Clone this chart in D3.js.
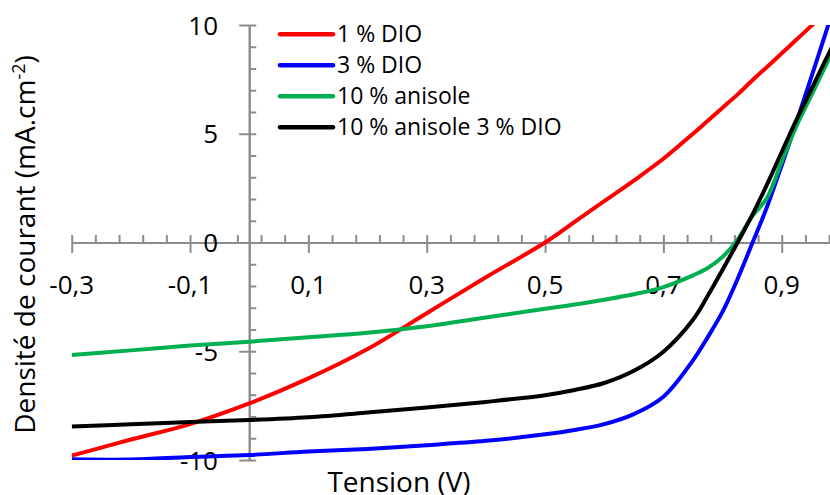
<!DOCTYPE html>
<html>
<head>
<meta charset="utf-8">
<script src="https://cdn.jsdelivr.net/npm/d3@7"></script>
<style>
  html, body { margin: 0; padding: 0; background: #fff; }
  svg { display: block; font-family: "Open Sans", sans-serif; }
</style>
</head>
<body>
<svg id="chart" width="830" height="495"></svg>
<script>
// ---- data ----
const voltage = [-0.3, -0.2, -0.1, 0, 0.1, 0.2, 0.3, 0.4, 0.5, 0.55, 0.6, 0.65, 0.7, 0.75, 0.775, 0.8, 0.825, 0.85, 0.875, 0.9, 0.925, 0.95, 0.975, 1.0];
const dio1     = [-9.8, -9.06, -8.35, -7.4, -6.25, -4.9, -3.25, -1.6, 0.0, 0.95, 1.9, 2.85, 3.85, 5.0, 5.6, 6.2, 6.8, 7.45, 8.07, 8.7, 9.33, 9.96, 10.6, 11.2];
const dio3     = [-9.97, -9.98, -9.86, -9.77, -9.61, -9.49, -9.32, -9.12, -8.82, -8.62, -8.35, -7.89, -7.09, -5.42, -4.35, -3.18, -1.7, -0.05, 1.63, 3.55, 5.55, 7.6, 9.7, 11.8];
const anisole  = [-5.17, -4.96, -4.74, -4.56, -4.36, -4.15, -3.85, -3.45, -3.05, -2.85, -2.63, -2.38, -2.05, -1.51, -1.17, -0.66, 0.12, 1.2, 2.05, 3.73, 5.36, 6.76, 8.17, 9.5];
const anisoleDio = [-8.46, -8.36, -8.25, -8.16, -8.03, -7.82, -7.59, -7.33, -7.02, -6.78, -6.46, -5.9, -5.02, -3.55, -2.45, -1.25, -0.02, 1.26, 2.66, 4.16, 5.65, 7.04, 8.44, 9.8];

const seriesNames  = ["1 % DIO", "3 % DIO", "10 % anisole", "10 % anisole 3 % DIO"];
const seriesColors = ["#ff0000", "#0000ff", "#00b050", "#000000"];
const seriesValues = [dio1, dio3, anisole, anisoleDio];

const xTickValues = [-0.3, -0.1, 0.1, 0.3, 0.5, 0.7, 0.9];
const xTickLabels = ["-0,3", "-0,1", "0,1", "0,3", "0,5", "0,7", "0,9"];
const yTickValues = [-10, -5, 0, 5, 10];
const yTickLabels = ["-10", "-5", "0", "5", "10"];

const xTitle = "Tension (V)";

// ---- layout ----
const svg = d3.select("#chart");
const x = d3.scaleLinear().domain([-0.3, 1.0]).range([71.7, 71.7 + 1.3 * 591.7]);
const y = d3.scaleLinear().domain([-10, 10]).range([460, 25]);
const axisColor = "#8c8c8c";

const x0 = y(0), y0 = x(0);
const xMinor = d3.range(0, 33).map(k => -0.3 + 0.04 * k);
const yMinor = d3.range(-10, 11);

function styleAxis(g) {
  g.selectAll("path.domain").attr("stroke", axisColor).attr("stroke-width", 2);
  g.selectAll(".tick line").attr("stroke", axisColor).attr("stroke-width", 2);
  g.selectAll(".tick text").remove();
}

// X axis: outward major ticks, inward minor ticks
svg.append("g").attr("transform", `translate(0,${x0})`)
  .call(d3.axisBottom(x).tickValues(xTickValues).tickSizeInner(10.5).tickSizeOuter(0))
  .call(styleAxis);
svg.append("g").attr("transform", `translate(0,${x0})`)
  .call(d3.axisTop(x).tickValues(xMinor).tickSizeInner(7.5).tickSizeOuter(0))
  .call(styleAxis);

// Y axis
svg.append("g").attr("transform", `translate(${y0},0)`)
  .call(d3.axisLeft(y).tickValues(yTickValues).tickSizeInner(10).tickSizeOuter(0))
  .call(styleAxis);
svg.append("g").attr("transform", `translate(${y0},0)`)
  .call(d3.axisRight(y).tickValues(yMinor).tickSizeInner(7).tickSizeOuter(0))
  .call(styleAxis);

// Tick labels
svg.append("g").selectAll("text").data(xTickValues).join("text")
  .attr("x", d => x(d)).attr("y", x0 + 51.5)
  .attr("text-anchor", "middle").attr("font-size", 26).attr("fill", "#000")
  .text((d, i) => xTickLabels[i]);
svg.append("g").selectAll("text").data(yTickValues).join("text")
  .attr("x", 218).attr("y", d => y(d) + 9.5)
  .attr("text-anchor", "end").attr("font-size", 26).attr("fill", "#000")
  .text((d, i) => yTickLabels[i]);

// Curves
svg.append("clipPath").attr("id", "plotclip").append("rect")
  .attr("x", 71.7).attr("y", y(10)).attr("width", 830).attr("height", y(-10) - y(10));
const line = d3.line().x(d => x(d[0])).y(d => y(d[1])).curve(d3.curveCatmullRom.alpha(0.5));
svg.append("g").attr("clip-path", "url(#plotclip)")
  .selectAll("path").data(seriesValues).join("path")
  .attr("d", vals => line(voltage.map((v, i) => [v, vals[i]])))
  .attr("fill", "none")
  .attr("stroke", (d, i) => seriesColors[i])
  .attr("stroke-width", 4)
  .attr("stroke-linejoin", "round");

// Legend
const legend = svg.append("g");
seriesNames.forEach((name, i) => {
  const ly = 34.3 + i * 31;
  legend.append("line").attr("x1", 280).attr("x2", 333).attr("y1", ly).attr("y2", ly)
    .attr("stroke", seriesColors[i]).attr("stroke-width", 4.5).attr("stroke-linecap", "round");
  legend.append("text").attr("x", 337).attr("y", ly + 8)
    .attr("font-size", 23).attr("fill", "#000").text(name);
});

// Axis titles
svg.append("text").attr("x", 399).attr("y", 491.5).attr("text-anchor", "middle")
  .attr("font-size", 28).attr("fill", "#000").text(xTitle);

const yt = svg.append("text").attr("transform", "translate(35,244.5) rotate(-90)")
  .attr("text-anchor", "middle").attr("font-size", 28).attr("fill", "#000");
yt.append("tspan").text("Densité de courant (mA.cm");
yt.append("tspan").attr("dy", -10).attr("font-size", 18).text("-2");
yt.append("tspan").attr("dy", 10).text(")");
</script>
</body>
</html>
